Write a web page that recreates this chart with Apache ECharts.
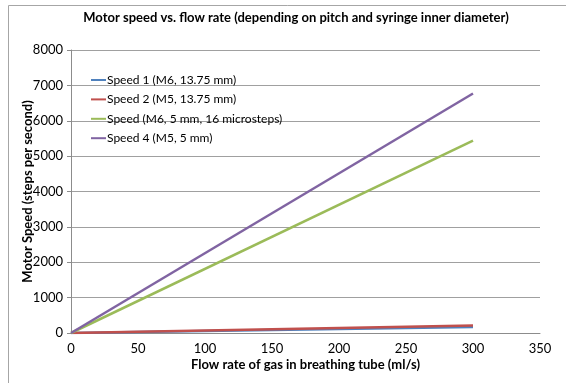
<!DOCTYPE html>
<html>
<head>
<meta charset="utf-8">
<script src="https://cdn.jsdelivr.net/npm/echarts@6/dist/echarts.min.js"></script>
<style>
  html, body { margin: 0; padding: 0; background: #fff; }
  #chart { width: 566px; height: 383px; }
</style>
</head>
<body>
<div id="chart"></div>
<script>
// Flow rate (ml/s) at which each speed is evaluated
const flowRates = [0, 300];

// Motor speed (steps per second) for each configuration
const speed1 = [0, 172];   // M6, 13.75 mm
const speed2 = [0, 215];   // M5, 13.75 mm
const speed3 = [0, 5440];  // M6, 5 mm, 16 microsteps
const speed4 = [0, 6770];  // M5, 5 mm

const seriesNames = [
  'Speed 1 (M6, 13.75 mm)',
  'Speed 2 (M5, 13.75 mm)',
  'Speed (M6, 5 mm, 16 microsteps)',
  'Speed 4 (M5, 5 mm)'
];
const seriesValues = [speed1, speed2, speed3, speed4];
const seriesColors = ['#4F81BD', '#C0504D', '#9BBB59', '#8064A2'];

const chartTitle = 'Motor speed vs. flow rate (depending on pitch and syringe inner diameter)';
const xName = 'Flow rate of gas in breathing tube (ml/s)';
const yName = 'Motor Speed (steps per second)';

const FONT = 'Lato, "Open Sans", sans-serif';

const chart = echarts.init(document.getElementById('chart'), null, { renderer: 'canvas' });

const series = seriesNames.map((name, i) => ({
  name: name,
  type: 'line',
  data: flowRates.map((x, j) => [x, seriesValues[i][j]]),
  showSymbol: false,
  symbol: 'none',
  lineStyle: { width: 2.5, color: seriesColors[i] },
  itemStyle: { color: seriesColors[i] },
  z: 3 + i
}));

chart.setOption({
  animation: false,
  backgroundColor: '#fff',
  graphic: [
    {
      type: 'rect',
      shape: { x: 8.5, y: 5.5, width: 620, height: 420 },
      style: { fill: 'none', stroke: '#a6a6a6', lineWidth: 1 },
      silent: true
    },
    {
      type: 'text',
      x: 296, y: 18,
      style: {
        text: chartTitle,
        font: 'bold 13px ' + FONT,
        fill: '#000',
        textAlign: 'center',
        textVerticalAlign: 'middle'
      }
    }
  ],
  legend: {
    orient: 'vertical',
    left: 86,
    top: 68,
    icon: 'rect',
    itemWidth: 15,
    itemHeight: 2,
    itemGap: 5.4,
    data: seriesNames,
    textStyle: { fontFamily: FONT, fontSize: 12, color: '#000', lineHeight: 14, padding: [0, 0, 0, -4] }
  },
  grid: { left: 71, top: 50, width: 469, height: 283, containLabel: false },
  xAxis: {
    type: 'value',
    min: 0, max: 350, interval: 50,
    name: xName,
    nameLocation: 'middle',
    nameGap: 25,
    nameMoveOverlap: false,
    nameTextStyle: { fontFamily: FONT, fontSize: 13, fontWeight: 'bold', color: '#000' },
    axisLine: { show: true, lineStyle: { color: '#8c8c8c', width: 1 } },
    axisTick: { show: false },
    axisLabel: { fontFamily: FONT, fontSize: 13, color: '#000', margin: 9, formatter: v => String(v) },
    splitLine: { show: false }
  },
  yAxis: {
    type: 'value',
    min: 0, max: 8000, interval: 1000,
    name: yName,
    nameLocation: 'middle',
    nameGap: 37,
    nameMoveOverlap: false,
    nameTextStyle: { fontFamily: FONT, fontSize: 13, fontWeight: 'bold', color: '#000' },
    axisLine: { show: true, lineStyle: { color: '#8c8c8c', width: 1 } },
    axisTick: { show: true, length: 4, inside: false, lineStyle: { color: '#8c8c8c' } },
    axisLabel: { fontFamily: FONT, fontSize: 13, color: '#000', margin: 8, formatter: v => String(v) },
    splitLine: { show: true, lineStyle: { color: '#a0a0a0', width: 1 } }
  },
  series: series
});
</script>
</body>
</html>
